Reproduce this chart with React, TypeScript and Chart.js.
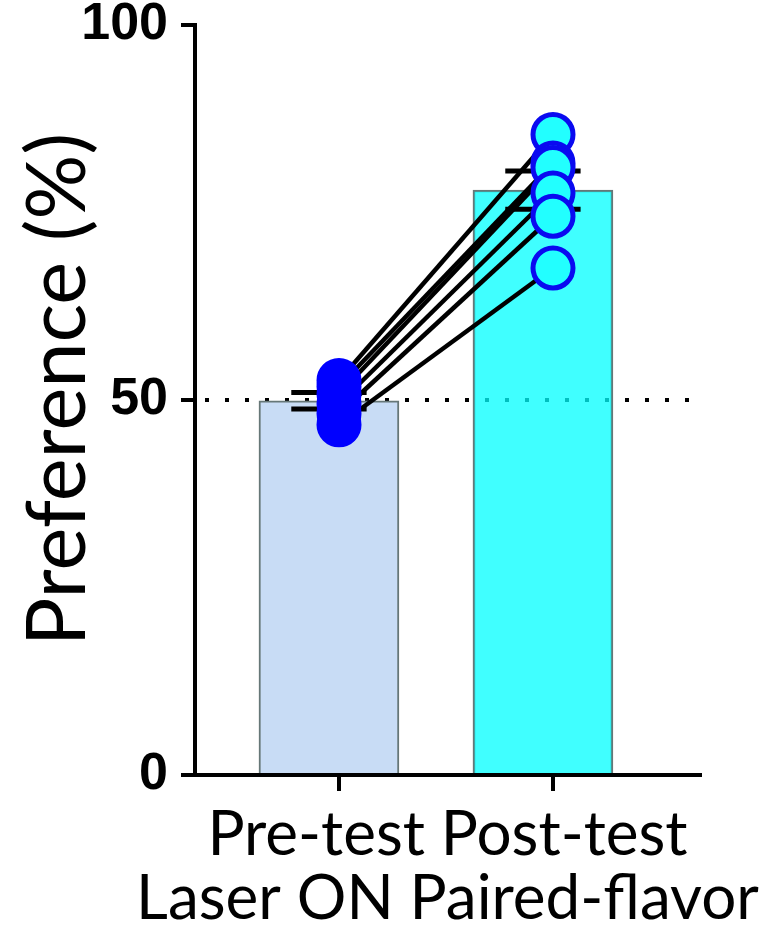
import React, { useEffect, useRef } from "react";
import { Chart, registerables } from "chart.js";

Chart.register(...registerables);

// ---- data ----
const groupPositions = [1, 2];
const barMeans = [49.9, 78.0];
const barSem = [1.1, 2.55];
const preValues = [52.6, 51.8, 50.8, 49.5, 48.2, 46.7];
const postValues = [85.4, 81.6, 81.0, 77.6, 74.5, 67.6];
const yTickValues = [0, 50, 100];
const chanceLevel = 50;
const xTitleLines = ["Pre-test Post-test", "Laser ON Paired-flavor"];
const yTitle = "Preference (%)";

// ---- style ----
const X_MIN = 0.327;
const X_MAX = 2.687;
const BAR_SHIFT = -0.047;
const CAP_HALF = 0.176;
const DOT_END = 2.64;

export default function App() {
  const ref = useRef<HTMLCanvasElement | null>(null);

  useEffect(() => {
    if (!ref.current) return;
    const barData = groupPositions.map((p, i) => ({ x: p + BAR_SHIFT, y: barMeans[i] }));
    const capData: any[] = [];
    groupPositions.forEach((p, i) => {
      const c = p + BAR_SHIFT;
      const hi = barMeans[i] + barSem[i];
      const lo = barMeans[i] - barSem[i];
      capData.push({ x: c - CAP_HALF, y: hi }, { x: c + CAP_HALF, y: hi }, { x: c, y: null });
      capData.push({ x: c - CAP_HALF, y: lo }, { x: c + CAP_HALF, y: lo }, { x: c, y: null });
    });
    const pairDatasets = preValues.map((v, i) => ({
      type: "line" as const,
      data: [
        { x: groupPositions[0], y: v },
        { x: groupPositions[1], y: postValues[i] },
      ],
      borderColor: "#000000",
      borderWidth: 4.5,
      pointRadius: 0,
      order: 1,
    }));

    const chart = new Chart(ref.current, {
      type: "bar",
      data: {
        datasets: [
          {
            type: "scatter" as any,
            data: preValues.map((v) => ({ x: groupPositions[0], y: v })),
            backgroundColor: "#0000FF",
            borderColor: "#0000FF",
            borderWidth: 3,
            pointRadius: 21,
            showLine: false,
            order: 0,
          },
          {
            type: "scatter" as any,
            data: postValues.map((v) => ({ x: groupPositions[1], y: v })),
            backgroundColor: "#22FFFF",
            borderColor: "#0A0AF0",
            borderWidth: 5,
            pointRadius: 20,
            showLine: false,
            order: 0,
          },
          ...pairDatasets,
          {
            type: "line" as const,
            data: capData,
            borderColor: "#000000",
            borderWidth: 5,
            pointRadius: 0,
            spanGaps: false,
            order: 2,
          },
          {
            type: "bar" as const,
            data: barData,
            backgroundColor: ["#C8DCF5", "rgba(0,255,255,0.75)"],
            borderColor: "#667777",
            borderWidth: 2,
            barThickness: 140,
            order: 3,
          },
          {
            type: "line" as const,
            data: [
              { x: X_MIN, y: chanceLevel },
              { x: DOT_END, y: chanceLevel },
            ],
            borderColor: "#000000",
            borderWidth: 4,
            borderDash: [4, 16],
            borderDashOffset: 10,
            pointRadius: 0,
            order: 4,
          },
        ] as any,
      },
      options: {
        animation: false,
        responsive: false,
        events: [],
        layout: { padding: { left: 0, right: 67, top: 25, bottom: 0 } },
        plugins: { legend: { display: false }, tooltip: { enabled: false } },
        scales: {
          x: {
            type: "linear",
            position: "bottom",
            min: X_MIN,
            max: X_MAX,
            offset: false,
            afterBuildTicks: (s: any) => {
              s.ticks = groupPositions.map((v) => ({ value: v }));
            },
            afterFit: (s: any) => {
              s.height = 28;
              s.paddingLeft = 0;
              s.paddingRight = 0;
            },
            ticks: { display: false },
            grid: {
              offset: false,
              drawOnChartArea: false,
              drawTicks: true,
              tickLength: 16,
              color: "#000000",
              lineWidth: 4,
            },
            border: { display: true, color: "#000000", width: 4 },
          },
          xTitle: {
            type: "linear",
            position: "bottom",
            min: X_MIN,
            max: X_MAX,
            offset: false,
            afterBuildTicks: (s: any) => {
              s.ticks = [{ value: (X_MIN + X_MAX) / 2 }];
            },
            afterFit: (s: any) => {
              s.height = 122;
              s.paddingLeft = 0;
              s.paddingRight = 0;
            },
            ticks: {
              callback: () => xTitleLines,
              color: "#000000",
              padding: 0,
              minRotation: 0,
              maxRotation: 0,
              autoSkip: false,
              font: { family: "Lato", size: 62, lineHeight: 1.03 },
            },
            grid: { display: false, drawTicks: false },
            border: { display: false },
          },
          y: {
            type: "linear",
            min: 0,
            max: 100,
            afterBuildTicks: (s: any) => {
              s.ticks = yTickValues.map((v) => ({ value: v }));
            },
            afterFit: (s: any) => {
              s.width = 195;
              s.paddingTop = 0;
              s.paddingBottom = 0;
            },
            ticks: {
              color: "#000000",
              padding: 13,
              font: { family: "Liberation Sans", size: 52, weight: "bold" },
            },
            grid: {
              drawOnChartArea: false,
              drawTicks: true,
              tickLength: 14,
              color: "#000000",
              lineWidth: 4,
            },
            border: { display: true, color: "#000000", width: 4 },
            title: {
              display: true,
              text: " " + yTitle,
              color: "#000000",
              font: { family: "Lato", size: 81, lineHeight: 1 },
              padding: { top: 18, bottom: 0 },
            },
          },
        },
      } as any,
    });
    return () => chart.destroy();
  }, []);

  return (
    <div style={{ position: "absolute", left: 0, top: 0, width: 767, height: 925 }}>
      <canvas ref={ref} width={767} height={925} style={{ display: "block" }} />
    </div>
  );
}
